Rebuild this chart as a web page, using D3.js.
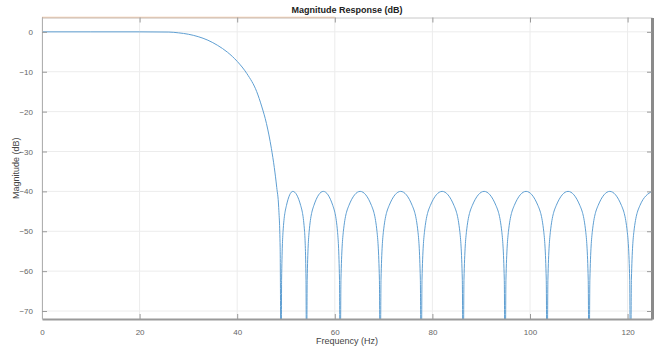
<!DOCTYPE html>
<html>
<head>
<meta charset="utf-8">
<script src="https://cdn.jsdelivr.net/npm/d3@7"></script>
<style>
  html, body { margin: 0; padding: 0; background: #ffffff; }
  #chart { width: 661px; height: 354px; }
</style>
</head>
<body>
<div id="chart"></div>
<script>
// --- DADOS ---
// passband + transition
const rolloffHz = [0, 10, 20, 26, 28, 30, 32, 34, 36, 38, 40, 42, 44, 45, 46, 47, 47.6, 48.1, 48.5, 48.8, 49.0];
const rolloffDb = [0, 0, 0, -0.05, -0.25, -0.6, -1.2, -2.1, -3.4, -5.1, -7.4, -10.5, -15.0, -18.6, -23.0, -29.2, -34.0, -39.0, -44, -54, -90];

// stopband lobes (equiripple at -40 dB), nulls clipped below the axis
const stopHz = [
  49.1, 49.4, 50.1, 51.4, 53.0, 53.8, 54.1, 54.2,
  54.34, 54.75, 55.72, 57.65, 59.58, 60.55, 60.96, 61.1,
  61.26, 61.76, 62.9, 65.2, 67.5, 68.64, 69.14, 69.3,
  69.47, 69.97, 71.15, 73.5, 75.85, 77.03, 77.53, 77.7,
  77.87, 78.39, 79.59, 82.0, 84.41, 85.61, 86.13, 86.3,
  86.47, 86.99, 88.19, 90.6, 93.01, 94.21, 94.73, 94.9,
  95.07, 95.59, 96.79, 99.2, 101.61, 102.81, 103.33, 103.5,
  103.67, 104.19, 105.39, 107.8, 110.21, 111.41, 111.93, 112.1,
  112.27, 112.78, 113.97, 116.35, 118.73, 119.92, 120.43, 120.6,
  120.78, 121.3, 122.54, 125
];
const stopDb = [
  -62, -50, -43.5, -40, -43.5, -50, -62, -90,
  -62, -50, -43.5, -40, -43.5, -50, -62, -90,
  -62, -50, -43.5, -40, -43.5, -50, -62, -90,
  -62, -50, -43.5, -40, -43.5, -50, -62, -90,
  -62, -50, -43.5, -40, -43.5, -50, -62, -90,
  -62, -50, -43.5, -40, -43.5, -50, -62, -90,
  -62, -50, -43.5, -40, -43.5, -50, -62, -90,
  -62, -50, -43.5, -40, -43.5, -50, -62, -90,
  -62, -50, -43.5, -40, -43.5, -50, -62, -90,
  -62, -50, -43.5, -40
];

const xTicks = [0, 20, 40, 60, 80, 100, 120];
const yTicks = [0, -10, -20, -30, -40, -50, -60, -70];
const xLimits = [0, 125];
const yLimits = [-72, 3.6];
const orangeSpanHz = [0, 60];

const chartTitle = 'Magnitude Response (dB)';
const xTitle = 'Frequency (Hz)';
const yTitle = 'Magnitude (dB)';

// --- DIMENSÕES ---
const W = 661, H = 354;
const plot = { left: 42, right: 652, top: 17.5, bottom: 319 };

const svg = d3.select('#chart').append('svg')
  .attr('width', W).attr('height', H)
  .style('font-family', '"Liberation Sans", Arial, sans-serif');

const x = d3.scaleLinear().domain(xLimits).range([plot.left, plot.right]);
const y = d3.scaleLinear().domain(yLimits).range([plot.bottom, plot.top]);

svg.append('defs').append('clipPath').attr('id', 'clip')
  .append('rect')
  .attr('x', plot.left).attr('y', plot.top)
  .attr('width', plot.right - plot.left).attr('height', plot.bottom - plot.top);

// fundo
svg.append('rect')
  .attr('x', plot.left).attr('y', plot.top)
  .attr('width', plot.right - plot.left).attr('height', plot.bottom - plot.top)
  .attr('fill', '#ffffff');

// grid
svg.append('g').selectAll('line').data(xTicks).join('line')
  .attr('x1', d => x(d)).attr('x2', d => x(d))
  .attr('y1', plot.top).attr('y2', plot.bottom)
  .attr('stroke', '#ececec').attr('stroke-width', 1);
svg.append('g').selectAll('line').data(yTicks).join('line')
  .attr('x1', plot.left).attr('x2', plot.right)
  .attr('y1', d => y(d)).attr('y2', d => y(d))
  .attr('stroke', '#ececec').attr('stroke-width', 1);

// curva
const pts = rolloffHz.map((f, i) => [f, rolloffDb[i]])
  .concat(stopHz.map((f, i) => [f, stopDb[i]]));

const line = d3.line().curve(d3.curveMonotoneX).x(d => x(d[0])).y(d => y(d[1]));

svg.append('path')
  .datum(pts)
  .attr('clip-path', 'url(#clip)')
  .attr('fill', 'none')
  .attr('stroke', '#5f9fd2')
  .attr('stroke-width', 1)
  .attr('d', line);

// linha laranja no topo
svg.append('line')
  .attr('x1', x(orangeSpanHz[0])).attr('x2', x(orangeSpanHz[1]))
  .attr('y1', plot.top).attr('y2', plot.top)
  .attr('stroke', '#f2c6a4').attr('stroke-width', 1.5);

// --- EIXOS ---
const axisColor = '#9a9a9a';

const xAxis = svg.append('g')
  .attr('transform', `translate(0,${plot.bottom})`)
  .call(d3.axisBottom(x).tickValues(xTicks).tickSizeInner(-5).tickSizeOuter(0).tickPadding(10));
xAxis.select('.domain').attr('stroke', axisColor).attr('stroke-width', 2);

const xTop = svg.append('g')
  .attr('transform', `translate(0,${plot.top})`)
  .call(d3.axisTop(x).tickValues(xTicks).tickSizeInner(-5).tickSizeOuter(0).tickFormat(''));
xTop.select('.domain').attr('stroke', '#c8c8c8');

const yAxis = svg.append('g')
  .attr('transform', `translate(${plot.left},0)`)
  .call(d3.axisLeft(y).tickValues(yTicks).tickSizeInner(-5).tickSizeOuter(0).tickPadding(9));
yAxis.select('.domain').attr('stroke', '#b0b0b0');

const yRight = svg.append('g')
  .attr('transform', `translate(${plot.right},0)`)
  .call(d3.axisRight(y).tickValues(yTicks).tickSizeInner(-5).tickSizeOuter(0).tickFormat(''));
yRight.select('.domain').attr('stroke', '#8a8a8a').attr('stroke-width', 3);

[xAxis, xTop, yAxis, yRight].forEach(g => {
  g.selectAll('.tick line').attr('stroke', axisColor);
  g.selectAll('text')
    .style('font-family', '"Liberation Sans", Arial, sans-serif')
    .style('font-size', '8px')
    .attr('fill', '#666');
});

// títulos
svg.append('text')
  .attr('x', (plot.left + plot.right) / 2).attr('y', 13)
  .attr('text-anchor', 'middle')
  .style('font-size', '9px').style('font-weight', 'bold')
  .attr('fill', '#222')
  .text(chartTitle);

svg.append('text')
  .attr('x', (plot.left + plot.right) / 2).attr('y', 344)
  .attr('text-anchor', 'middle')
  .style('font-size', '9px')
  .attr('fill', '#444')
  .text(xTitle);

svg.append('text')
  .attr('transform', `translate(19,${(plot.top + plot.bottom) / 2}) rotate(-90)`)
  .attr('text-anchor', 'middle')
  .style('font-size', '9px')
  .attr('fill', '#444')
  .text(yTitle);
</script>
</body>
</html>
